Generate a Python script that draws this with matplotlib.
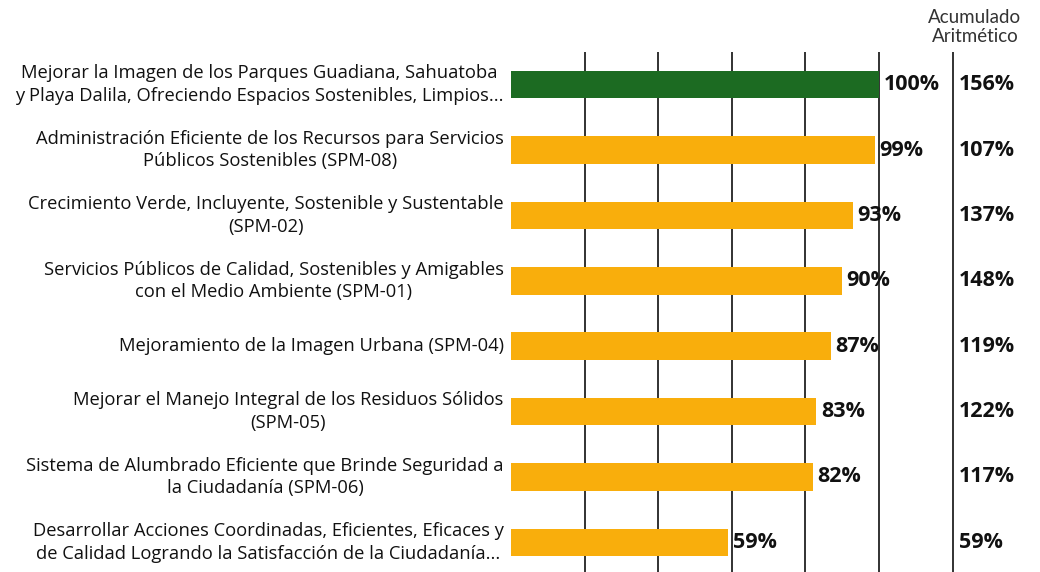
import matplotlib.pyplot as plt

# avance por programa (%)
labels = [
    "Mejorar la Imagen de los Parques Guadiana, Sahuatoba\ny Playa Dalila, Ofreciendo Espacios Sostenibles, Limpios...",
    "Administración Eficiente de los Recursos para Servicios\nPúblicos Sostenibles (SPM-08)",
    "Crecimiento Verde, Incluyente, Sostenible y Sustentable\n(SPM-02)",
    "Servicios Públicos de Calidad, Sostenibles y Amigables\ncon el Medio Ambiente (SPM-01)",
    "Mejoramiento de la Imagen Urbana (SPM-04)",
    "Mejorar el Manejo Integral de los Residuos Sólidos\n(SPM-05)",
    "Sistema de Alumbrado Eficiente que Brinde Seguridad a\nla Ciudadanía (SPM-06)",
    "Desarrollar Acciones Coordinadas, Eficientes, Eficaces y\nde Calidad Logrando la Satisfacción de la Ciudadanía...",
]
avance = [100, 99, 93, 90, 87, 83, 82, 59]
acumulado = [156, 107, 137, 148, 119, 122, 117, 59]

green = "#1c6b22"
orange = "#f9ae0c"
colors = [green] + [orange] * (len(avance) - 1)

fig = plt.figure(figsize=(10.4, 5.72), dpi=100)
# 0% at x=511 px, 100% at x=879 px
ax = fig.add_axes([511 / 1040, -3 / 572, 3.68 * 122 / 1040, 1 - 49 / 572])

y = list(range(len(avance)))
ax.barh(y, avance, height=0.42, color=colors, zorder=1)
ax.set_xlim(0, 122)
ax.set_ylim(len(avance) - 0.5, -0.5)

# gridlines every 20%, the one at 120% separates the accumulated column
for gx in range(20, 121, 20):
    ax.axvline(gx, color="#222222", lw=1.3, zorder=0)

for s in ax.spines.values():
    s.set_visible(False)
ax.set_xticks([])
ax.set_yticks([])

for i, (lab, v, a) in enumerate(zip(labels, avance, acumulado)):
    ax.text(-2.0, i, lab, ha="right", va="center", multialignment="center",
            fontsize=13.2, family="Open Sans", color="#111111", linespacing=1.32,
            clip_on=False)
    ax.text(v + 1.2, i, f"{v}%", ha="left", va="center", fontsize=15.5,
            fontweight="bold", family="Open Sans", color="#111111")
    ax.text(121.7, i, f"{a}%", ha="left", va="center", fontsize=15.5,
            fontweight="bold", family="Open Sans", color="#111111",
            clip_on=False)

fig.text(975 / 1040, 1 - 27 / 572, "Acumulado\nAritmético", ha="center",
         va="center", fontsize=13.5, family="Lato", color="#333333",
         linespacing=1.1)

fig.savefig("out.png", dpi=100)
